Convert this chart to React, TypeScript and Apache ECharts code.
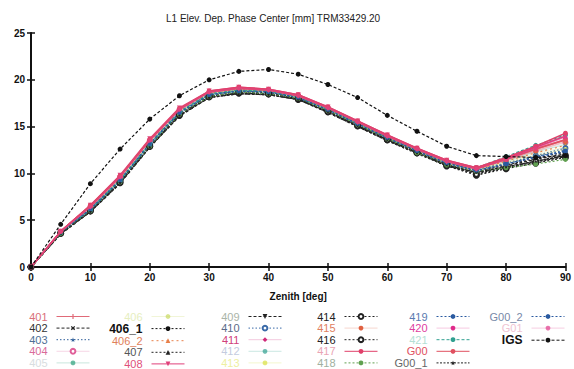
import React, { useEffect, useRef } from "react";
import * as echarts from "echarts";

const zenith = [0, 5, 10, 15, 20, 25, 30, 35, 40, 45, 50, 55, 60, 65, 70, 75, 80, 85, 90];
const yTicks = [0, 5, 10, 15, 20, 25];

const v401 = [0, 3.8, 6.5, 9.7, 13.6, 16.9, 18.7, 19.1, 18.9, 18.3, 17.0, 15.5, 14.0, 12.6, 11.3, 10.5, 11.5, 12.6, 13.6];
const v402 = [0, 3.6, 6.0, 9.1, 12.9, 16.3, 18.2, 18.6, 18.5, 18.0, 16.6, 15.1, 13.6, 12.3, 10.9, 10.1, 10.8, 11.5, 12.1];
const v403 = [0, 3.7, 6.1, 9.2, 13.0, 16.4, 18.4, 18.8, 18.7, 18.1, 16.8, 15.2, 13.8, 12.4, 11.1, 10.3, 11.0, 11.8, 12.5];
const v404 = [0, 3.8, 6.4, 9.6, 13.5, 16.8, 18.6, 19.0, 18.9, 18.3, 17.0, 15.4, 13.9, 12.6, 11.3, 10.5, 11.4, 12.4, 13.3];
const v405 = [0, 3.7, 6.2, 9.3, 13.1, 16.5, 18.4, 18.8, 18.7, 18.2, 16.8, 15.3, 13.8, 12.4, 11.1, 10.4, 11.3, 12.3, 13.1];
const v406 = [0, 3.7, 6.3, 9.4, 13.3, 16.6, 18.5, 18.9, 18.8, 18.2, 16.9, 15.4, 13.9, 12.5, 11.2, 10.4, 11.2, 12.1, 12.8];
const v406_1 = [0, 3.6, 5.9, 9.0, 12.8, 16.2, 18.1, 18.6, 18.4, 17.9, 16.5, 15.0, 13.5, 12.1, 10.8, 10.0, 10.6, 11.2, 11.8];
const v406_2 = [0, 3.7, 6.3, 9.5, 13.4, 16.7, 18.6, 19.0, 18.8, 18.2, 16.9, 15.4, 13.9, 12.5, 11.2, 10.4, 11.3, 12.2, 13.0];
const v407 = [0, 3.6, 6.0, 9.1, 12.9, 16.3, 18.3, 18.7, 18.6, 18.0, 16.7, 15.2, 13.7, 12.3, 11.0, 10.2, 10.9, 11.6, 12.3];
const v408 = [0, 3.8, 6.6, 9.8, 13.7, 17.0, 18.8, 19.2, 19.0, 18.4, 17.1, 15.6, 14.1, 12.7, 11.4, 10.6, 11.6, 12.8, 14.0];
const v409 = [0, 3.5, 5.9, 8.9, 12.8, 16.1, 18.1, 18.5, 18.4, 17.9, 16.5, 15.0, 13.5, 12.2, 10.8, 10.1, 10.7, 11.3, 11.9];
const v410 = [0, 3.7, 6.2, 9.3, 13.2, 16.6, 18.5, 18.9, 18.8, 18.2, 16.9, 15.3, 13.8, 12.5, 11.2, 10.4, 11.1, 11.9, 12.7];
const v411 = [0, 3.8, 6.5, 9.6, 13.5, 16.8, 18.7, 19.1, 18.9, 18.3, 17.0, 15.5, 14.0, 12.6, 11.3, 10.5, 11.4, 12.5, 13.5];
const v412 = [0, 3.7, 6.2, 9.3, 13.1, 16.5, 18.4, 18.8, 18.7, 18.2, 16.9, 15.4, 13.9, 12.6, 11.3, 10.6, 11.7, 12.9, 14.2];
const v413 = [0, 3.7, 6.3, 9.4, 13.3, 16.6, 18.5, 18.9, 18.8, 18.2, 16.9, 15.3, 13.8, 12.4, 11.1, 10.3, 11.1, 11.9, 12.6];
const v414 = [0, 3.6, 6.0, 9.1, 12.9, 16.3, 18.2, 18.6, 18.5, 17.9, 16.6, 15.1, 13.6, 12.2, 10.8, 9.8, 10.5, 11.1, 11.7];
const v415 = [0, 3.8, 6.4, 9.6, 13.5, 16.8, 18.6, 19.0, 18.9, 18.3, 17.0, 15.4, 13.9, 12.6, 11.3, 10.5, 11.4, 12.4, 13.4];
const v416 = [0, 3.6, 6.0, 9.0, 12.9, 16.2, 18.2, 18.6, 18.5, 18.0, 16.6, 15.1, 13.6, 12.2, 10.9, 9.9, 10.6, 11.3, 11.9];
const v417 = [0, 3.8, 6.6, 9.7, 13.6, 16.9, 18.8, 19.2, 19.0, 18.4, 17.1, 15.6, 14.1, 12.7, 11.4, 10.6, 11.7, 12.9, 14.3];
const v418 = [0, 3.6, 6.0, 9.1, 12.9, 16.3, 18.2, 18.7, 18.5, 18.0, 16.7, 15.2, 13.7, 12.2, 10.9, 10.2, 10.6, 11.0, 11.5];
const v419 = [0, 3.7, 6.1, 9.2, 13.1, 16.5, 18.4, 18.8, 18.7, 18.1, 16.8, 15.3, 13.8, 12.4, 11.1, 10.3, 11.0, 11.8, 12.4];
const v420 = [0, 3.8, 6.5, 9.7, 13.6, 16.9, 18.7, 19.1, 18.9, 18.3, 17.0, 15.5, 14.0, 12.6, 11.3, 10.5, 11.5, 12.6, 13.7];
const v421 = [0, 3.7, 6.2, 9.3, 13.2, 16.6, 18.5, 18.9, 18.8, 18.2, 16.9, 15.4, 13.9, 12.6, 11.3, 10.6, 11.8, 13.0, 14.1];
const vG00 = [0, 3.8, 6.5, 9.7, 13.6, 16.9, 18.7, 19.1, 18.9, 18.3, 17.0, 15.5, 14.0, 12.6, 11.3, 10.5, 11.5, 12.6, 13.6];
const vG00_1 = [0, 3.6, 5.9, 9.0, 12.8, 16.2, 18.1, 18.5, 18.4, 17.9, 16.6, 15.1, 13.6, 12.2, 10.9, 10.1, 10.7, 11.3, 11.9];
const vG00_2 = [0, 3.7, 6.2, 9.3, 13.2, 16.5, 18.4, 18.8, 18.7, 18.1, 16.8, 15.3, 13.8, 12.4, 11.1, 10.3, 11.0, 11.7, 12.3];
const vG01 = [0, 3.8, 6.4, 9.6, 13.5, 16.8, 18.7, 19.1, 18.9, 18.3, 17.0, 15.5, 14.0, 12.6, 11.3, 10.5, 11.5, 12.7, 13.9];
const vIGS = [0, 4.56, 8.9, 12.6, 15.8, 18.3, 20.0, 20.9, 21.1, 20.6, 19.5, 18.1, 16.2, 14.5, 12.9, 11.9, 11.8, 11.7, 11.9];

const PLUS = "path://M3,0H5V3H8V5H5V8H3V5H0V3H3Z";
const STAR = "path://M50,0L61,35L98,35L68,57L79,91L50,70L21,91L32,57L2,35L39,35Z";

type Def = {
  name: string;
  data: number[];
  color: string;
  text: string;
  dash: "solid" | number[];
  symbol: string;
  size?: number;
  rotate?: number;
  faintLine?: boolean;
  faded?: boolean;
  bold?: boolean;
  width?: number;
  z?: number;
};

const columns: Def[][] = [
  [
    { name: "401", data: v401, color: "#e06a78", text: "#d9707a", dash: "solid", symbol: PLUS, size: 5, width: 1.5, z: 5 },
    { name: "402", data: v402, color: "#222222", text: "#333333", dash: [3, 2], symbol: PLUS, rotate: 45, size: 5 },
    { name: "403", data: v403, color: "#2f5f9a", text: "#4f6f95", dash: [1.5, 2], symbol: STAR, size: 6 },
    { name: "404", data: v404, color: "#e0609a", text: "#d96a9a", dash: "solid", symbol: "emptyCircle", size: 4, faintLine: true },
    { name: "405", data: v405, color: "#2aa07a", text: "#d8dde0", dash: "solid", symbol: "circle", size: 4, faintLine: true, faded: true },
  ],
  [
    { name: "406", data: v406, color: "#c8d860", text: "#e6eec0", dash: "solid", symbol: "circle", size: 4, faintLine: true, faded: true },
    { name: "406_1", data: v406_1, color: "#111111", text: "#111111", dash: [2, 2], symbol: "circle", size: 5, bold: true },
    { name: "406_2", data: v406_2, color: "#e8804a", text: "#e0805a", dash: [2, 3], symbol: "triangle", size: 5 },
    { name: "407", data: v407, color: "#222222", text: "#555555", dash: [2, 2], symbol: "triangle", size: 5 },
    { name: "408", data: v408, color: "#e0407a", text: "#e0507a", dash: "solid", symbol: "triangle", rotate: 180, size: 5, width: 1.5, z: 5 },
  ],
  [
    { name: "409", data: v409, color: "#222222", text: "#aab4a8", dash: [3, 2], symbol: "triangle", rotate: 180, size: 4 },
    { name: "410", data: v410, color: "#3a6aa8", text: "#5a6a88", dash: [1.5, 2], symbol: "emptyCircle", size: 4 },
    { name: "411", data: v411, color: "#d02a7a", text: "#d0407a", dash: "solid", symbol: "diamond", size: 4, faintLine: true },
    { name: "412", data: v412, color: "#30a090", text: "#c4cce0", dash: "solid", symbol: "circle", size: 4, faintLine: true, faded: true },
    { name: "413", data: v413, color: "#d8e040", text: "#eef0a0", dash: "solid", symbol: "circle", size: 4, faintLine: true, faded: true },
  ],
  [
    { name: "414", data: v414, color: "#222222", text: "#222222", dash: [2, 2], symbol: "emptyCircle", size: 5 },
    { name: "415", data: v415, color: "#e06040", text: "#e08060", dash: "solid", symbol: "circle", size: 5, faintLine: true },
    { name: "416", data: v416, color: "#222222", text: "#222222", dash: [2, 2], symbol: "emptyCircle", size: 5 },
    { name: "417", data: v417, color: "#e0406a", text: "#eaa4b4", dash: "solid", symbol: "circle", size: 5, width: 1.5, z: 5 },
    { name: "418", data: v418, color: "#60a050", text: "#a0b0a0", dash: [2, 2], symbol: "circle", size: 5 },
  ],
  [
    { name: "419", data: v419, color: "#2a5aa0", text: "#5a7ab0", dash: [2, 2], symbol: "circle", size: 5 },
    { name: "420", data: v420, color: "#e02a8a", text: "#e040a0", dash: "solid", symbol: "circle", size: 5, faintLine: true },
    { name: "421", data: v421, color: "#30a090", text: "#b4e0d4", dash: [3, 2], symbol: "circle", size: 5 },
    { name: "G00", data: vG00, color: "#e05060", text: "#e05060", dash: "solid", symbol: "circle", size: 4, width: 1.5, z: 5 },
    { name: "G00_1", data: vG00_1, color: "#222222", text: "#666666", dash: [2, 1.5], symbol: STAR, size: 4 },
  ],
  [
    { name: "G00_2", data: vG00_2, color: "#2a5aa0", text: "#7888a8", dash: [2, 2], symbol: "circle", size: 4 },
    { name: "G01", data: vG01, color: "#e03a8a", text: "#f0c4d2", dash: "solid", symbol: "circle", size: 4, width: 1.5, z: 5, faded: true },
    { name: "IGS", data: vIGS, color: "#111111", text: "#111111", dash: [3, 2], symbol: "circle", size: 5, bold: true, z: 6 },
  ],
];

const legendRights = [484, 389, 292, 196, 104, 9];

export default function App() {
  const ref = useRef<HTMLDivElement>(null);
  useEffect(() => {
    if (!ref.current) return;
    const chart = echarts.init(ref.current, undefined, { renderer: "svg" });
    const all = columns.flat();
    const font = "Liberation Sans, Arial, sans-serif";
    const series = all.map((d) => ({
      type: "line",
      name: d.name,
      data: zenith.map((z, i) => [z, d.data[i]]),
      symbol: d.symbol,
      symbolSize: d.size ?? 4,
      symbolRotate: d.rotate ?? 0,
      showAllSymbol: true,
      z: d.z ?? 3,
      itemStyle: { color: d.color, opacity: d.faded ? 0.7 : 1 },
      lineStyle: {
        color: d.color,
        width: d.width ?? 1.2,
        type: d.dash,
        opacity: d.faintLine ? 0.25 : d.faded ? 0.6 : 1,
      },
      emphasis: { disabled: true },
    }));
    const legends = columns.map((col, ci) => ({
      orient: "vertical",
      align: "right",
      right: legendRights[ci],
      top: 311,
      height: 120,
      padding: 0,
      itemGap: 0.6,
      itemWidth: 33,
      itemHeight: 6,
      selectedMode: false,
      textStyle: { fontFamily: font, fontSize: 11, lineHeight: 10, padding: [0, 4, 0, 0] },
      data: col.map((d) => ({
        name: d.name,
        textStyle: {
          color: d.text,
          fontWeight: d.bold ? "bold" : "normal",
          fontSize: d.bold ? 12 : 11,
          lineHeight: 10,
        },
        lineStyle: d.faintLine || d.faded ? { opacity: 0.25, width: 1 } : { width: 1 },
      })),
    }));
    chart.setOption({
      animation: false,
      backgroundColor: "#ffffff",
      title: {
        text: "L1 Elev. Dep. Phase Center [mm] TRM33429.20",
        left: 161,
        top: 8,
        textStyle: { fontFamily: font, fontSize: 10, fontWeight: "normal", color: "#222" },
      },
      legend: legends,
      grid: { left: 31, right: 2, top: 33, bottom: 102, containLabel: false },
      xAxis: [
        {
          type: "value",
          min: 0,
          max: 90,
          interval: 10,
          name: "Zenith [deg]",
          nameLocation: "middle",
          nameGap: 24,
          nameTextStyle: { fontFamily: font, fontSize: 10, fontWeight: "bold", color: "#111" },
          axisLine: { lineStyle: { color: "#111", width: 2 } },
          axisTick: { inside: true, length: 4, lineStyle: { color: "#111", width: 1.5 } },
          axisLabel: { fontFamily: font, fontSize: 10, fontWeight: "bold", color: "#111", margin: 5 },
          splitLine: { show: false },
        },
        {
          type: "value",
          position: "top",
          min: 0,
          max: 90,
          interval: 10,
          axisLine: { lineStyle: { color: "#111", width: 1 } },
          axisTick: { inside: true, length: 4, lineStyle: { color: "#111", width: 1.5 } },
          axisLabel: { show: false },
          splitLine: { show: false },
        },
      ],
      yAxis: [
        {
          type: "value",
          min: yTicks[0],
          max: yTicks[yTicks.length - 1],
          interval: 5,
          axisLine: { show: true, lineStyle: { color: "#111", width: 2 } },
          axisTick: { show: true, inside: true, length: 4, lineStyle: { color: "#111", width: 1.5 } },
          axisLabel: { fontFamily: font, fontSize: 10, fontWeight: "bold", color: "#111", margin: 6 },
          splitLine: { show: false },
        },
        {
          type: "value",
          position: "right",
          min: 0,
          max: 25,
          interval: 5,
          axisLine: { show: true, lineStyle: { color: "#111", width: 1 } },
          axisTick: { show: true, inside: true, length: 4, lineStyle: { color: "#111", width: 1.5 } },
          axisLabel: { show: false },
          splitLine: { show: false },
        },
      ],
      series,
    });
    return () => chart.dispose();
  }, []);
  return <div ref={ref} style={{ width: 574, height: 369, position: "absolute", left: 0, top: 0 }} />;
}
